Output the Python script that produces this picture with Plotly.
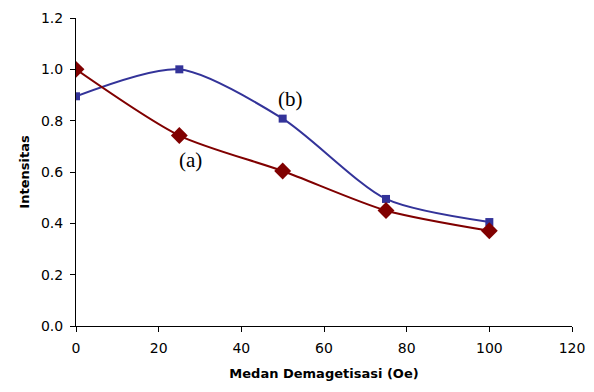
import plotly.graph_objects as go

x_vals = [0, 25, 50, 75, 100]
series_a = [1.0, 0.742, 0.604, 0.450, 0.371]
series_b = [0.895, 1.0, 0.808, 0.495, 0.405]
label_a = "(a)"
label_b = "(b)"
x_title = "Medan Demagetisasi (Oe)"
y_title = "Intensitas"

fig = go.Figure()
fig.add_trace(go.Scatter(x=x_vals, y=series_b, mode="lines+markers",
                         line=dict(color="#333399", width=2, shape="spline", smoothing=0.75),
                         marker=dict(symbol="square", size=8, color="#333399")))
fig.add_trace(go.Scatter(x=x_vals, y=series_a, mode="lines+markers",
                         line=dict(color="#800000", width=2, shape="spline", smoothing=0.75),
                         marker=dict(symbol="diamond", size=13, color="#800000")))

fig.add_annotation(x=27.6, y=0.647, text=label_a, showarrow=False,
                   font=dict(family="Liberation Serif", size=21, color="black"))
fig.add_annotation(x=52, y=0.884, text=label_b, showarrow=False,
                   font=dict(family="Liberation Serif", size=21, color="black"))

# page body has an 8px default margin, so the figure is sized/offset to compensate
fig.update_layout(
    width=586, height=384,
    margin=dict(l=68, r=22, t=10, b=66),
    paper_bgcolor="white", plot_bgcolor="white",
    showlegend=False,
    font=dict(family="DejaVu Sans", size=14, color="black"),
)
fig.update_xaxes(range=[0, 120], dtick=20, tick0=0, showgrid=False, zeroline=False,
                 showline=True, linecolor="black", linewidth=1, automargin=False,
                 ticks="outside", ticklen=5, tickcolor="black", ticklabelstandoff=4,
                 title=dict(text="<b>" + x_title + "</b>", font=dict(size=13), standoff=14))
fig.update_yaxes(range=[0, 1.2], dtick=0.2, tick0=0, tickformat=".1f", showgrid=False,
                 zeroline=False, showline=True, linecolor="black", linewidth=1, automargin=False,
                 ticks="outside", ticklen=5, tickcolor="black", ticklabelstandoff=4,
                 title=dict(text="<b>" + y_title + "</b>", font=dict(size=13), standoff=8))

fig.write_html("out.html")
